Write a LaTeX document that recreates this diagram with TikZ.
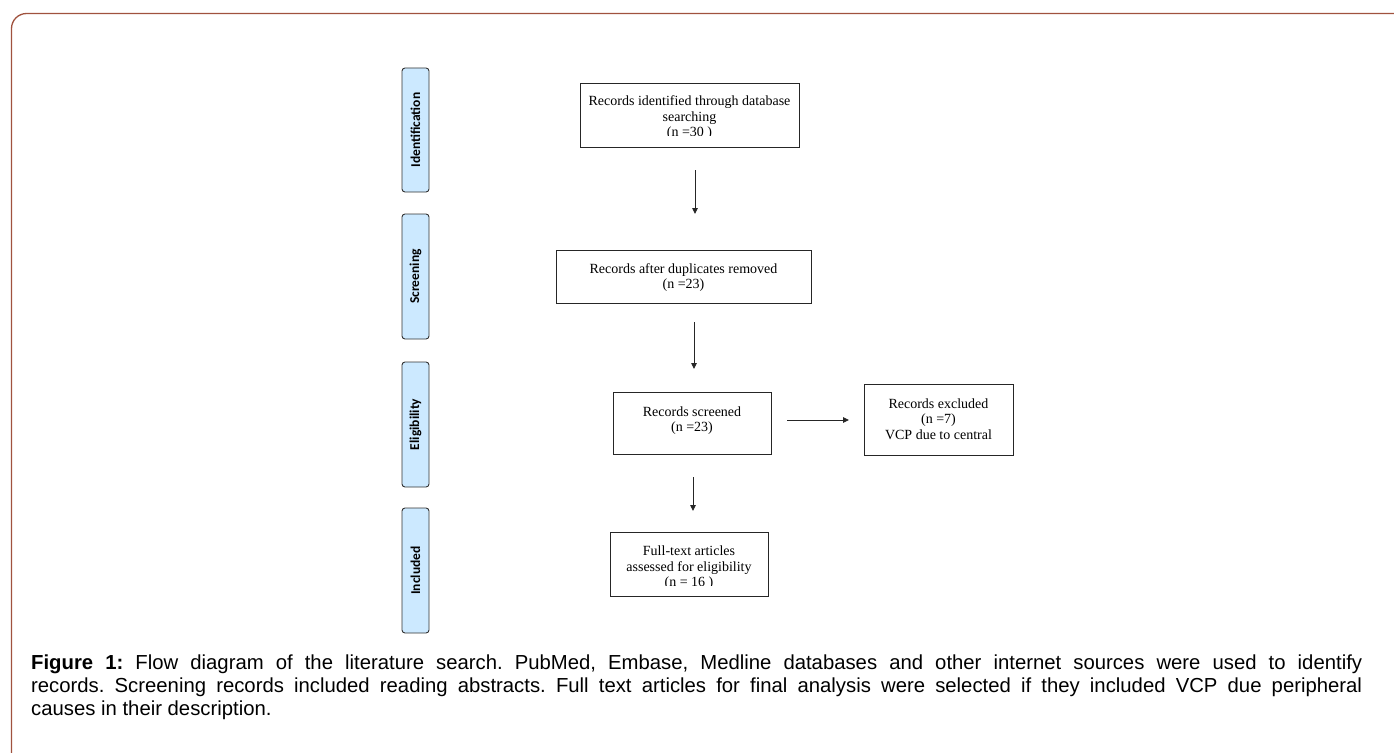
\documentclass[tikz,border=0pt]{standalone}
\usepackage{fontspec}
\setmainfont{Liberation Serif}
\newfontfamily\capfont{Liberation Sans}
\newfontfamily\sidefont{Carlito}
\usetikzlibrary{arrows.meta}
\definecolor{framecol}{RGB}{160,82,62}
\definecolor{sidefill}{RGB}{204,233,255}
\definecolor{sideline}{RGB}{50,50,50}
\tikzset{
  sidebox/.style={draw=sideline, line width=0.9pt, fill=sidefill, rounded corners=3pt},
  sidetext/.style={rotate=90, font=\sidefont\bfseries\fontsize{13.5}{15}\selectfont, text=black},
  flowbox/.style={draw=black!85, line width=0.9pt},
  flowtext/.style={align=center, font=\fontsize{14}{15.5}\selectfont, inner sep=0pt},
  flowarrow/.style={draw=black!85, line width=0.9pt, -{Triangle[width=5.5pt,length=6pt]}}
}
\begin{document}
\begin{tikzpicture}[x=1pt,y=-1pt]
\useasboundingbox (0,0) rectangle (1394,752);
% frame
\draw[framecol, line width=1.3pt, rounded corners=15pt] (11.5,756) -- (11.5,13.5) -- (1394,13.5);

% side labels
\draw[sidebox] (402,68) rectangle (429,192);
\node[sidetext] (sid) at (415.5,130) {Identification};
\draw[sidebox] (402,214) rectangle (429,339);
\node[sidetext] (sscr) at (415.5,276.5) {Screening};
\draw[sidebox] (402,362) rectangle (429,487);
\node[sidetext] (selig) at (415.5,424.5) {Eligibility};
\draw[sidebox] (402,508) rectangle (429,633);
\node[sidetext] (sinc) at (415.5,570.5) {Included};

% box 1 (text clipped at bottom)
\node[flowbox, minimum width=219pt, minimum height=64pt] (b1) at (689.5,115) {};
\begin{scope}
  \clip (581,84) rectangle (798,135.5);
  \node[flowtext] (t1) at (689.5,118) {Records identified through database\\searching\\(n =30 )};
\end{scope}

% box 2
\node[flowbox, minimum width=255pt, minimum height=53pt] (b2) at (683.5,276.5) {};
\node[flowtext] (t2) at (683.5,277.5) {Records after duplicates removed\\(n =23)};

% box 3
\node[flowbox, minimum width=158pt, minimum height=62pt] (b3) at (692,423) {};
\node[flowtext] (t3) at (692,420.5) {Records screened\\(n =23)};

% box 4
\node[flowbox, minimum width=149pt, minimum height=71pt] (b4) at (938.5,419.5) {};
\node[flowtext] (t4) at (938.5,419) {Records excluded\\(n =7)\\VCP due to central};

% box 5 (text clipped at bottom)
\node[flowbox, minimum width=158pt, minimum height=64pt] (b5) at (689,564) {};
\begin{scope}
  \clip (611,533) rectangle (767,585);
  \node[flowtext] (t5) at (689,568) {Full-text articles\\assessed for eligibility\\(n = 16 )};
\end{scope}

% arrows
\coordinate (a1s) at (695,170);
\coordinate (a1e) at (695,214);
\draw[flowarrow] (a1s) -- (a1e);
\coordinate (a2s) at (694,322);
\coordinate (a2e) at (694,369);
\draw[flowarrow] (a2s) -- (a2e);
\coordinate (a3s) at (693,477);
\coordinate (a3e) at (693,511);
\draw[flowarrow] (a3s) -- (a3e);
\coordinate (a4s) at (787,420);
\coordinate (a4e) at (849,420);
\draw[flowarrow] (a4s) -- (a4e);

% caption
\node[anchor=north west, inner sep=0pt, text width=1331pt, align=justify,
      font=\capfont\fontsize{20.3}{23}\selectfont] (cap) at (31,655)
  {\frenchspacing\textbf{Figure 1:} Flow diagram of the literature search. PubMed, Embase, Medline databases and other internet sources were used to identify\linebreak records. Screening records included reading abstracts. Full text articles for final analysis were selected if they included VCP due peripheral\linebreak causes in their description.};
\end{tikzpicture}
\end{document}
